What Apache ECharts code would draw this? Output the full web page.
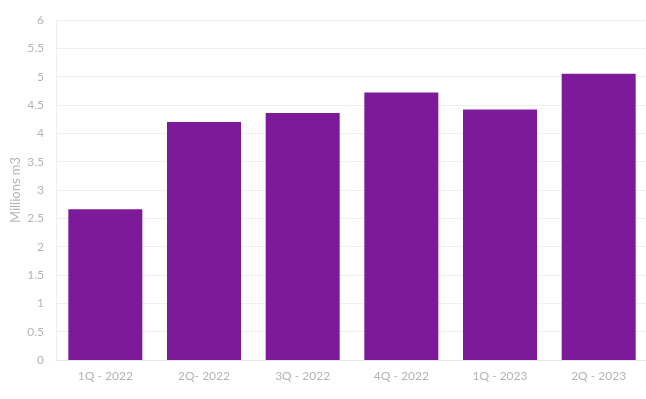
<!DOCTYPE html>
<html>
<head>
<meta charset="utf-8">
<script src="https://cdn.jsdelivr.net/npm/echarts@6/dist/echarts.min.js"></script>
<style>
  html, body { margin: 0; padding: 0; background: #fff; }
  #chart { width: 646px; height: 399px; }
</style>
</head>
<body>
<div id="chart"></div>
<script>
// quarters shown on the x axis
var quarters = ['1Q - 2022', '2Q- 2022', '3Q - 2022', '4Q - 2022', '1Q - 2023', '2Q - 2023'];
// volume, millions m3
var volumes = [2.66, 4.2, 4.36, 4.72, 4.42, 5.05];

var chart = echarts.init(document.getElementById('chart'));

var option = {
    animation: false,
    textStyle: { fontFamily: 'Lato, "Noto Sans", sans-serif' },
    grid: {
        left: 56,
        right: -2,
        top: 20,
        bottom: 39,
        outerBoundsMode: 'none'
    },
    xAxis: {
        type: 'category',
        data: quarters,
        axisLine: { lineStyle: { color: '#e6e6e6' } },
        axisTick: { show: false },
        axisLabel: { color: '#b4b4b4', fontSize: 12, margin: 10 }
    },
    yAxis: {
        type: 'value',
        min: 0,
        max: 6,
        interval: 0.5,
        name: 'Millions m3',
        nameLocation: 'middle',
        nameGap: 34,
        nameMoveOverlap: false,
        nameTextStyle: { color: '#b4b4b4', fontSize: 13 },
        axisLine: { show: true, lineStyle: { color: '#eeeeee' } },
        axisTick: { show: false },
        axisLabel: { color: '#b4b4b4', fontSize: 12, margin: 12 },
        splitLine: { lineStyle: { color: '#f0f0f0' } }
    },
    series: [{
        type: 'bar',
        data: volumes,
        barWidth: '75%',
        itemStyle: { color: '#7c1a99' }
    }]
};

chart.setOption(option);
</script>
</body>
</html>
